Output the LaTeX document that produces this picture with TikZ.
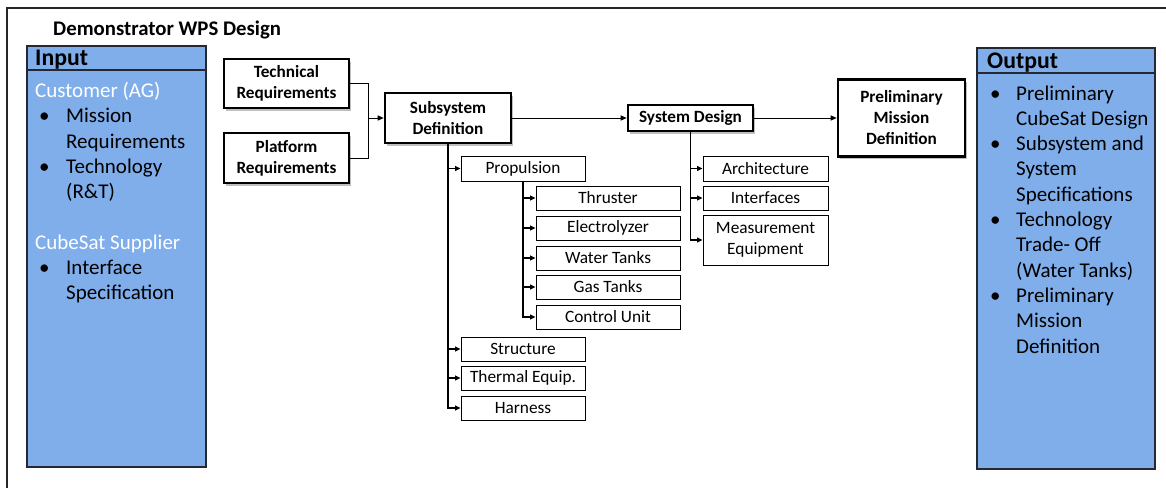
\documentclass[tikz,border=0pt]{standalone}
\usepackage{fontspec}
\setmainfont{Carlito}
\usetikzlibrary{arrows.meta,shadows}
\definecolor{boxblue}{RGB}{128,174,235}
\definecolor{edgec}{RGB}{35,40,50}
\begin{document}
\begin{tikzpicture}[x=1pt,y=-1pt,
  thickbox/.style={draw=black,line width=2.6pt,fill=white,align=center,inner sep=0pt,
    font=\fontsize{17.2}{21}\selectfont\bfseries,
    drop shadow={shadow xshift=2pt,shadow yshift=-2.5pt,fill=black,opacity=0.25}},
  smallbox/.style={draw=black,line width=0.9pt,fill=white,inner sep=0pt,align=center,
    font=\fontsize{17.3}{21}\selectfont},
  panel/.style={draw=edgec,line width=1.2pt,fill=boxblue,inner sep=0pt},
  panelhead/.style={anchor=base west,inner sep=0pt,font=\fontsize{23.8}{24}\selectfont\bfseries},
  panelbody/.style={anchor=base west,inner sep=0pt,font=\fontsize{21}{25.3}\selectfont},
  conn/.style={line width=1pt},
  arr/.style={line width=1pt,-{Triangle[length=6pt,width=5pt]}},
  tree/.style={line width=1.3pt,-{Triangle[length=5.5pt,width=5pt]}}
]
\useasboundingbox (0,0) rectangle (1166,488);
\fill[white] (0,0) rectangle (1166,488);
% outer frame
\draw[line width=1.2pt,draw=black!85] (7,488) -- (7,8) -- (1166,8);
% title
\node[anchor=base west,inner sep=0pt,font=\fontsize{20.8}{22}\selectfont\bfseries] (title) at (53,35) {Demonstrator WPS Design};

% Input panel
\node[panel,minimum width=179pt,minimum height=421pt] (inbox) at (116.5,256.5) {};
\draw[draw=edgec,line width=1.2pt] (27,70) -- (206,70);
\node[panelhead] (inhead) at (35,65.5) {Input};
\node[panelbody] (inbody) at (35,97.5) {\begin{tabular}[t]{@{}p{31pt}@{}l@{}}
\multicolumn{2}{@{}l@{}}{\textcolor{white}{Customer (AG)}}\\
\hspace*{4pt}\textbullet & Mission\\
 & Requirements\\
\hspace*{4pt}\textbullet & Technology\\
 & (R\&T)\\
 & \\
\multicolumn{2}{@{}l@{}}{\textcolor{white}{CubeSat Supplier}}\\
\hspace*{4pt}\textbullet & Interface\\
 & Specification
\end{tabular}};

% Output panel
\node[panel,minimum width=178pt,minimum height=421pt] (outbox) at (1066,258.5) {};
\draw[draw=edgec,line width=1.2pt] (977,73) -- (1155,73);
\node[panelhead] (outhead) at (987,68.5) {Output};
\node[panelbody] (outbody) at (985,100) {\begin{tabular}[t]{@{}p{31pt}@{}l@{}}
\hspace*{5pt}\textbullet & Preliminary\\
 & CubeSat Design\\
\hspace*{5pt}\textbullet & Subsystem and\\
 & System\\
 & Specifications\\
\hspace*{5pt}\textbullet & Technology\\
 & Trade- Off\\
 & (Water Tanks)\\
\hspace*{5pt}\textbullet & Preliminary\\
 & Mission\\
 & Definition
\end{tabular}};

% main boxes
\node[thickbox,minimum width=125pt,minimum height=49pt] (tech) at (286.5,83.5) {Technical\\Requirements};
\node[thickbox,minimum width=125pt,minimum height=50pt] (plat) at (286.5,158) {Platform\\Requirements};
\node[thickbox,minimum width=126pt,minimum height=50pt] (subs) at (448,118) {Subsystem\\Definition};
\node[thickbox,minimum width=125pt,minimum height=26pt] (sysd) at (690.5,118) {System Design};
\node[thickbox,minimum width=127pt,minimum height=77pt] (pmd) at (901.5,118) {Preliminary\\Mission\\Definition};

% subsystem children
\node[smallbox,minimum width=124pt,minimum height=25pt] (prop) at (523,168.5) {Propulsion};
\node[smallbox,minimum width=124pt,minimum height=24pt] (struct) at (523,349) {Structure};
\node[smallbox,minimum width=124pt,minimum height=24pt] (therm) at (523,378) {Thermal Equip.};
\node[smallbox,minimum width=124pt,minimum height=24pt] (harn) at (523,408) {Harness};
% propulsion children
\node[smallbox,minimum width=144pt,minimum height=24pt] (thru) at (608,198) {Thruster};
\node[smallbox,minimum width=144pt,minimum height=24pt] (elec) at (608,228) {Electrolyzer};
\node[smallbox,minimum width=144pt,minimum height=24pt] (water) at (608,258) {Water Tanks};
\node[smallbox,minimum width=144pt,minimum height=24pt] (gas) at (608,287) {Gas Tanks};
\node[smallbox,minimum width=144pt,minimum height=24pt] (ctrl) at (608,317) {Control Unit};
% system design children
\node[smallbox,minimum width=125pt,minimum height=25pt] (arch) at (765.5,168.5) {Architecture};
\node[smallbox,minimum width=125pt,minimum height=24pt] (intf) at (765.5,198) {Interfaces};
\node[smallbox,minimum width=125pt,minimum height=50pt] (meas) at (765.5,240) {Measurement\\Equipment};

% connectors
\coordinate (join) at (368,118);
\draw[conn] (tech.east) -| (join);
\draw[conn] (plat.east) -| (join);
\draw[arr] (join) -- (subs.west);
\draw[arr] (subs.east) -- (sysd.west);
\draw[arr] (sysd.east) -- (sysd.east -| pmd.west);

\foreach \c in {prop,struct,therm,harn} \draw[tree] (subs.south) |- (\c.west);
\foreach \c in {thru,elec,water,gas,ctrl} \draw[tree] (prop.south) |- (\c.west);
\foreach \c in {arch,intf,meas} \draw[tree] (sysd.south) |- (\c.west);
\end{tikzpicture}
\end{document}
